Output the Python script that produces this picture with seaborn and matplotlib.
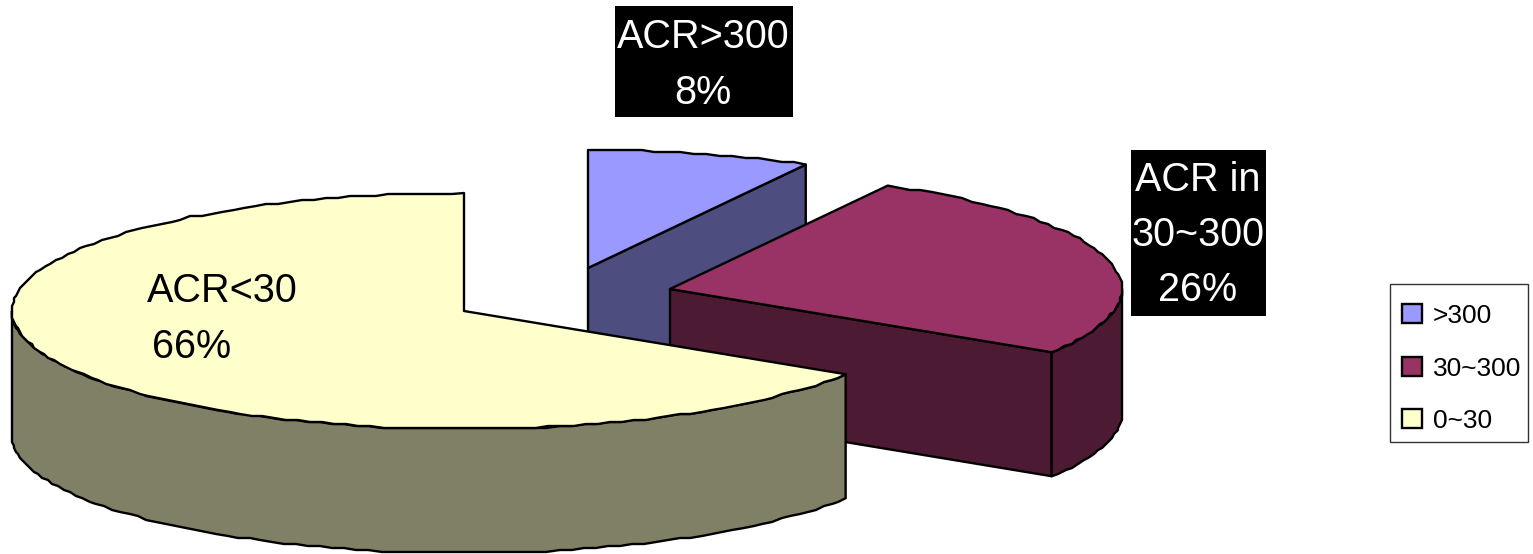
import numpy as np
import matplotlib
matplotlib.use("Agg")
import matplotlib.pyplot as plt
from matplotlib.patches import Patch, Rectangle
import seaborn as sns

# Share of patients in each ACR band, percent
bands = [">300", "30~300", "0~30"]
shares = [8, 26, 66]
top_colors = ["#9999FF", "#993366", "#FFFFCC"]

# Labels written next to each slice: (lines, x centre, y centre per line, text colour)
slice_labels = [
    (["ACR>300", "8%"], 703, [37, 93], "white"),
    (["ACR in", "30~300", "26%"], 1198, [180, 235, 290], "white"),
    (["ACR<30"], 222, [291], "black"),
    (["66%"], 192, [347], "black"),
]
label_boxes = [(615, 6, 178, 111), (1131, 150, 135, 166)]

# Projection of the tilted pie, in pixels of the canvas
RADIUS_X, RADIUS_Y, DEPTH = 452, 118, 124
centres = [(588, 268), (670, 289), (464, 311)]
STEP = 2.0

sns.set_theme(style="white")
plt.rcParams["font.family"] = ["Liberation Sans", "DejaVu Sans"]
plt.rcParams["text.color"] = "black"
palette = sns.color_palette(top_colors)

fig = plt.figure(figsize=(15.33, 5.54), dpi=100)
ax = fig.add_axes([0, 0, 1, 1])
ax.set_xlim(0, 1533)
ax.set_ylim(554, 0)
ax.axis("off")


def rim(cx, cy, start, stop):
    """Points along the slice rim, angles clockwise from twelve o'clock."""
    n = max(int(abs(stop - start) / 1.6), 2)
    theta = np.radians(np.linspace(start, stop, n))
    x = cx + RADIUS_X * np.sin(theta)
    y = cy - RADIUS_Y * np.cos(theta)
    # the rim is a chain of short chords with slightly snapped corners
    inner_x, inner_y = np.round(x[1:-1] / STEP) * STEP, np.round(y[1:-1] / STEP) * STEP
    return np.r_[x[0], inner_x, x[-1]], np.r_[y[0], inner_y, y[-1]]


def outline(xs, ys, color):
    ax.fill(xs, ys, facecolor=color, edgecolor="black", linewidth=1.7, joinstyle="round")


angle = 0.0
edges = []
for share in shares:
    edges.append((angle, angle + 3.6 * share))
    angle += 3.6 * share

for (start, stop), (cx, cy), color in zip(edges, centres, palette):
    dark = tuple(c * 0.5 for c in color)

    # cut face that turns towards the viewer
    if 0 < stop < 180:
        end_x = cx + RADIUS_X * np.sin(np.radians(stop))
        end_y = cy - RADIUS_Y * np.cos(np.radians(stop))
        outline([cx, end_x, end_x, cx], [cy, end_y, end_y + DEPTH, cy + DEPTH], dark)

    # outer wall, front half of the rim only
    lo, hi = max(start, 90), min(stop, 270)
    if hi > lo:
        x, y = rim(cx, cy, lo, hi)
        outline(np.r_[x, x[::-1]], np.r_[y, y[::-1] + DEPTH], dark)

    # top surface
    x, y = rim(cx, cy, start, stop)
    outline(np.r_[cx, x], np.r_[cy, y], color)

for left, top, width, height in label_boxes:
    ax.add_patch(Rectangle((left, top), width, height, facecolor="black", edgecolor="none", zorder=5))

for lines, x, ys, text_color in slice_labels:
    for line, y in zip(lines, ys):
        ax.text(x, y, line, color=text_color, fontsize=28.5, ha="center", va="center", zorder=6)

# Legend frame is drawn on its own so its padding can differ per side
ax.add_patch(Rectangle((1390, 284), 138, 158, facecolor="white", edgecolor="#333333", linewidth=1.0, zorder=6))
handles = [Patch(facecolor=c, edgecolor="black", linewidth=1.7) for c in palette]
legend = ax.legend(
    handles, bands,
    loc="upper left",
    bbox_to_anchor=(1402 / 1533, 1 - 304 / 554),
    borderaxespad=0,
    frameon=False,
    fontsize=19.0,
    handlelength=0.75,
    handleheight=0.75,
    handletextpad=0.42,
    labelspacing=1.08,
    borderpad=0,
)
legend.set_zorder(7)

fig.savefig("out.png", dpi=100, facecolor="white")
